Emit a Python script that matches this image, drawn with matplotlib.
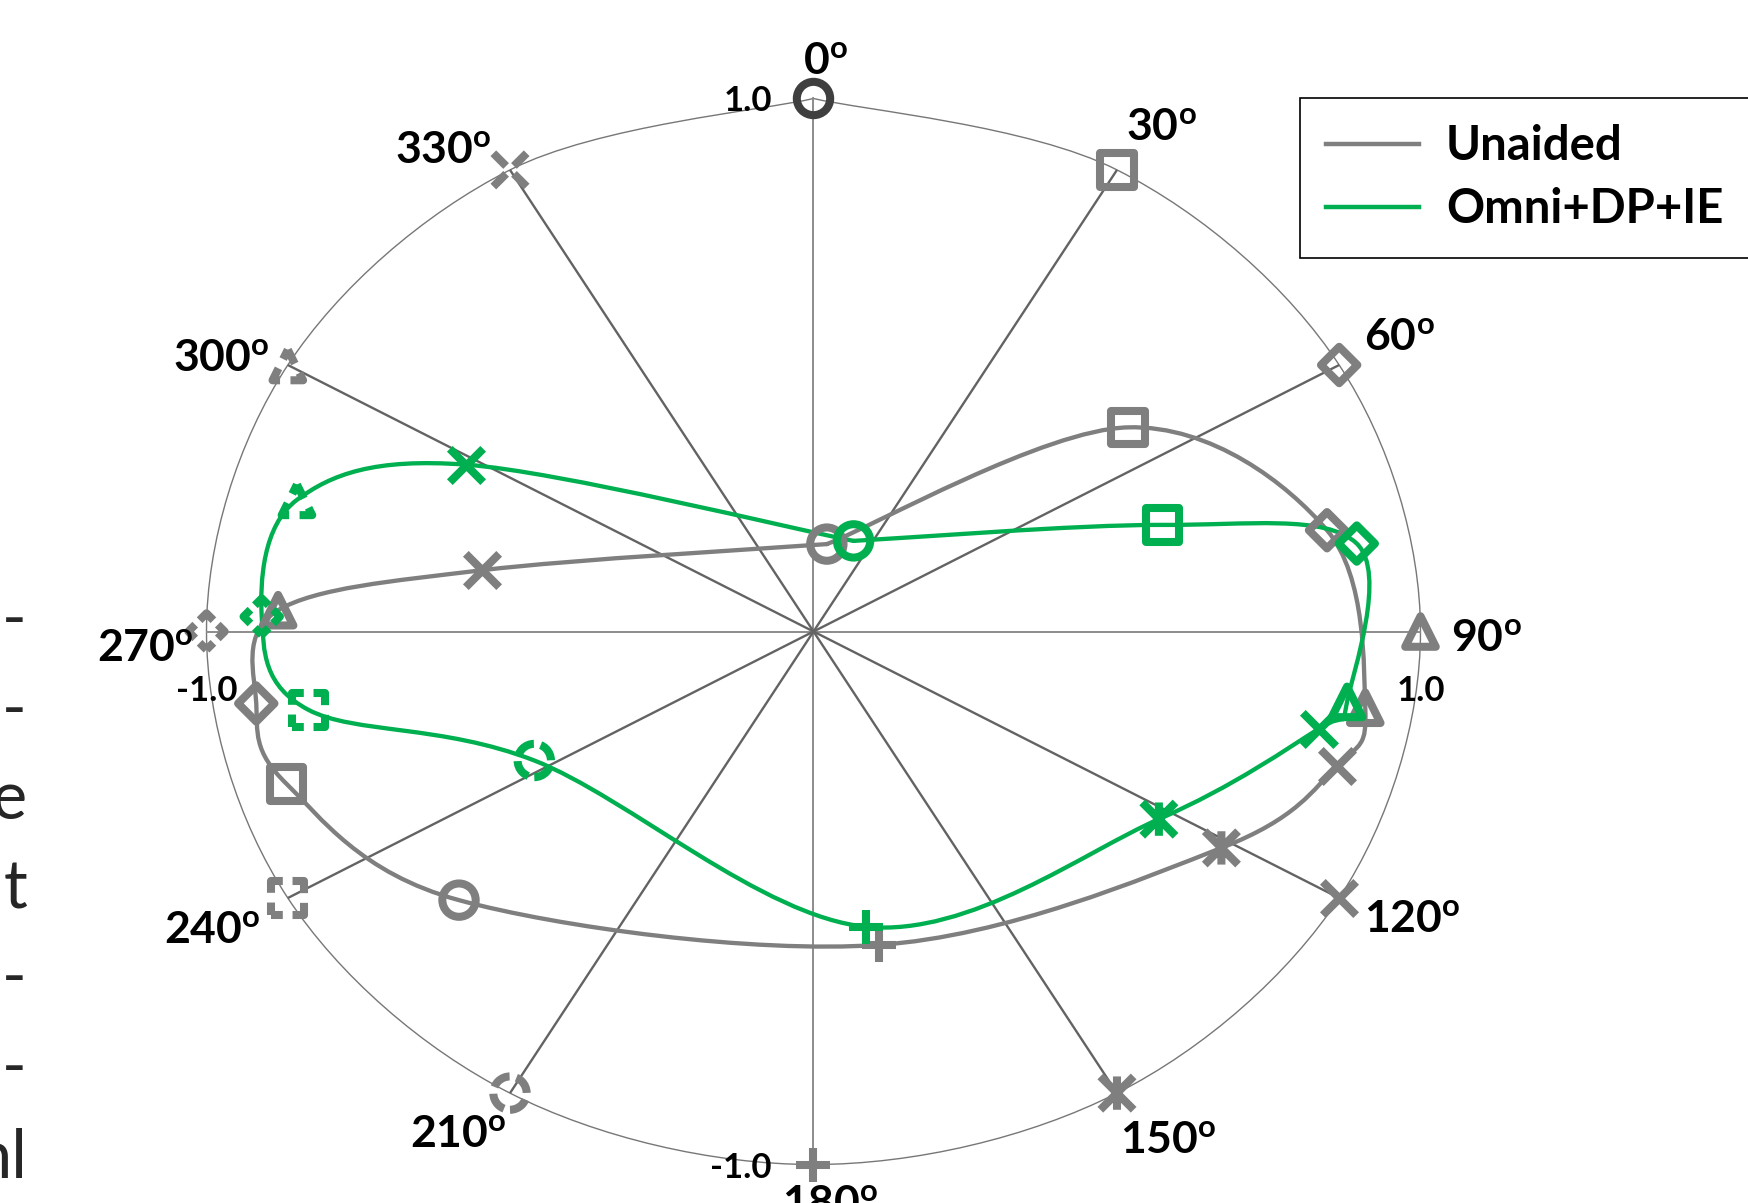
import numpy as np
import matplotlib
matplotlib.use("Agg")
import matplotlib.pyplot as plt
from matplotlib.path import Path
from matplotlib.patches import PathPatch
from matplotlib.markers import MarkerStyle
from matplotlib.lines import Line2D

plt.rcParams["font.family"] = ["Lato", "DejaVu Sans"]
plt.rcParams["lines.scale_dashes"] = False

# ---------------- data ----------------
angles_deg = [0, 30, 60, 90, 120, 150, 180, 210, 240, 270, 300, 330]
angle_labels = ["0", "30", "60", "90", "120", "150", "180",
                "210", "240", "270", "300", "330"]

# mean response position for each target direction (x = lateral, y = front/back)
unaided_x = [0.022, 0.518, 0.846, 0.909, 0.862, 0.672, 0.108,
             -0.584, -0.868, -0.918, -0.882, -0.546]
unaided_y = [0.164, 0.383, 0.190, -0.143, -0.253, -0.406, -0.588,
             -0.504, -0.286, -0.135, 0.040, 0.115]
omni_x = [0.066, 0.575, 0.895, 0.879, 0.833, 0.569, 0.087,
          -0.460, -0.832, -0.909, -0.851, -0.572]
omni_y = [0.170, 0.200, 0.165, -0.132, -0.182, -0.352, -0.554,
          -0.242, -0.147, 0.028, 0.247, 0.313]

series_labels = ["Unaided", "Omni+DP+IE"]
axis_ticks = [-1.0, 1.0]
axis_tick_labels = ["-1.0", "1.0"]
side_fragments = ["-", "-", "e", "t", "-", "-", "nl"]

# ---------------- style ----------------
GRAY = "#7f7f7f"
GREEN = "#00b050"
SPOKE = "#636363"
AXIS = "#8c8c8c"
RING = "#777777"

ASTERISK = Path([(-0.5, -0.5), (0.5, 0.5), (-0.5, 0.5), (0.5, -0.5), (0, -0.5), (0, 0.5)],
                [Path.MOVETO, Path.LINETO, Path.MOVETO, Path.LINETO, Path.MOVETO, Path.LINETO])
marker_keys = ["o", "s", "D", "^", "x", "ast", "+", "o", "s", "D", "^", "x"]
marker_obj = {"o": "o", "s": "s", "D": "D", "^": "^", "x": "x", "ast": ASTERISK, "+": "+"}
marker_size = {"o": 24, "s": 24, "D": 18.5, "^": 22, "x": 24, "ast": 24, "+": 25}
dash_style = {"o": (0, (14, 5)), "s": (8.5, (17, 7)), "D": (7, (14, 4.5)),
              "^": (7.5, (15, 7.5)), "x": (0, (13, 8)), "ast": (0, (13, 8)), "+": (0, (13, 8))}
MEW = 5.8

ring_dashed = [False] * 7 + [True] * 5
omni_dashed = [False] * 7 + [True] * 4 + [False]
ring_colors = ["#3f3f3f"] + [GRAY] * 11

# label anchors (data units, baseline-centred)
label_xy = [(0.019, 1.044), (0.573, 0.920), (0.965, 0.527), (1.108, -0.038),
            (0.987, -0.566), (0.585, -0.980), (0.027, -1.100), (-0.585, -0.969),
            (-0.990, -0.586), (-1.101, -0.057), (-0.976, 0.486), (-0.610, 0.877)]

W, H = 1749, 1203
fig = plt.figure(figsize=(W / 100, H / 100), dpi=100)
ax = fig.add_axes([0, 0, 1, 1])
ax.set_xlim(-1.3402, 1.5412)
ax.set_ylim(-1.0722, 1.1848)
ax.patch.set_alpha(0)


def smooth_path(xs, ys):
    """Open Bezier spline through the points (end points used as their own neighbours)."""
    P = np.column_stack([xs, ys]).astype(float)
    ext = np.vstack([P[0], P, P[-1]])
    verts = [P[0]]
    codes = [Path.MOVETO]
    for i in range(len(P) - 1):
        p0, p1, p2, p3 = ext[i], ext[i + 1], ext[i + 2], ext[i + 3]
        verts += [p1 + (p2 - p0) / 6.0, p2 - (p3 - p1) / 6.0, p2]
        codes += [Path.CURVE4] * 3
    return Path(verts, codes)


theta = np.deg2rad(np.array(angles_deg, dtype=float))
ring_x = np.sin(theta)
ring_y = np.cos(theta)

# unit ring (smoothed through the target directions)
ring_theta = np.append(theta, 2 * np.pi)
ax.add_patch(PathPatch(smooth_path(np.sin(ring_theta), np.cos(ring_theta)),
                       facecolor="none", edgecolor=RING, lw=1.0, zorder=1))

# axes through the origin
for side in ("top", "right"):
    ax.spines[side].set_visible(False)
for side in ("left", "bottom"):
    ax.spines[side].set_position(("data", 0))
    ax.spines[side].set_bounds(-1, 1)
    ax.spines[side].set_color(AXIS)
    ax.spines[side].set_linewidth(1.4)
    ax.spines[side].set_zorder(1.5)
ax.set_xticks(axis_ticks)
ax.set_xticklabels(axis_tick_labels, fontweight="bold")
ax.set_yticks(axis_ticks)
ax.set_yticklabels(axis_tick_labels, fontweight="bold")
ax.tick_params(axis="x", length=0, pad=31, labelsize=25, labelcolor="black")
ax.tick_params(axis="y", length=0, pad=30, labelsize=25, labelcolor="black")

# spokes to the oblique target directions
for a, x, y in zip(angles_deg, ring_x, ring_y):
    if a % 90 != 0:
        ax.plot([0, x], [0, y], color=SPOKE, lw=1.7, zorder=2, solid_capstyle="butt")

# smoothed response curves (closed back to the 0 degree response)
for xs, ys, col in ((unaided_x, unaided_y, GRAY), (omni_x, omni_y, GREEN)):
    ax.add_patch(PathPatch(smooth_path(np.append(xs, xs[0]), np.append(ys, ys[0])),
                           facecolor="none", edgecolor=col, lw=3.1, zorder=3,
                           capstyle="round", joinstyle="round"))


def draw_marker(x, y, key, color, dashed, z):
    m = marker_obj[key]
    ms = marker_size[key]
    ls = dash_style[key] if dashed else "solid"
    style = MarkerStyle(m)
    if style.is_filled():
        ax.scatter([x], [y], s=ms ** 2, marker=m, facecolors="none", edgecolors=color,
                   linewidths=MEW, linestyles=[ls], zorder=z, clip_on=False)
    else:
        ax.scatter([x], [y], s=ms ** 2, marker=m, color=color,
                   linewidths=MEW, linestyles=[ls], zorder=z, clip_on=False)


for i in range(len(angles_deg)):
    draw_marker(ring_x[i], ring_y[i], marker_keys[i], ring_colors[i], ring_dashed[i], 4)
    draw_marker(unaided_x[i], unaided_y[i], marker_keys[i], GRAY, False, 4)
    draw_marker(omni_x[i], omni_y[i], marker_keys[i], GREEN, omni_dashed[i], 5)

# direction labels
for lab, (lx, ly) in zip(angle_labels, label_xy):
    ax.text(lx, ly, r"$\mathregular{%s^{o}}$" % lab, ha="center", va="baseline",
            fontsize=32, fontweight="bold", color="black", zorder=6)

# legend (box runs on past the right edge)
handles = [Line2D([], [], color=GRAY, lw=3.2), Line2D([], [], color=GREEN, lw=3.2)]
leg = ax.legend(handles, series_labels, loc="upper left", mode="expand",
                bbox_to_anchor=(1300 / W, 1 - 98 / H, 470 / W, 0),
                bbox_transform=fig.transFigure,
                borderaxespad=0, frameon=True, fancybox=False, shadow=False,
                framealpha=1, edgecolor="black",
                prop={"family": "Lato", "weight": "bold", "size": 34},
                handlelength=1.95, handletextpad=0.58, borderpad=0.56, labelspacing=0.40)
leg.get_frame().set_linewidth(1.2)
leg.set_zorder(10)

# line ends of the neighbouring text column
for i, frag in enumerate(side_fragments):
    fig.text(27 / W, 1 - (640 + 89.6 * i) / H, frag, ha="right", va="baseline",
             fontsize=48, family="Lato", fontweight="normal", color="#262626")

fig.savefig("out.png", dpi=100, facecolor="white")
